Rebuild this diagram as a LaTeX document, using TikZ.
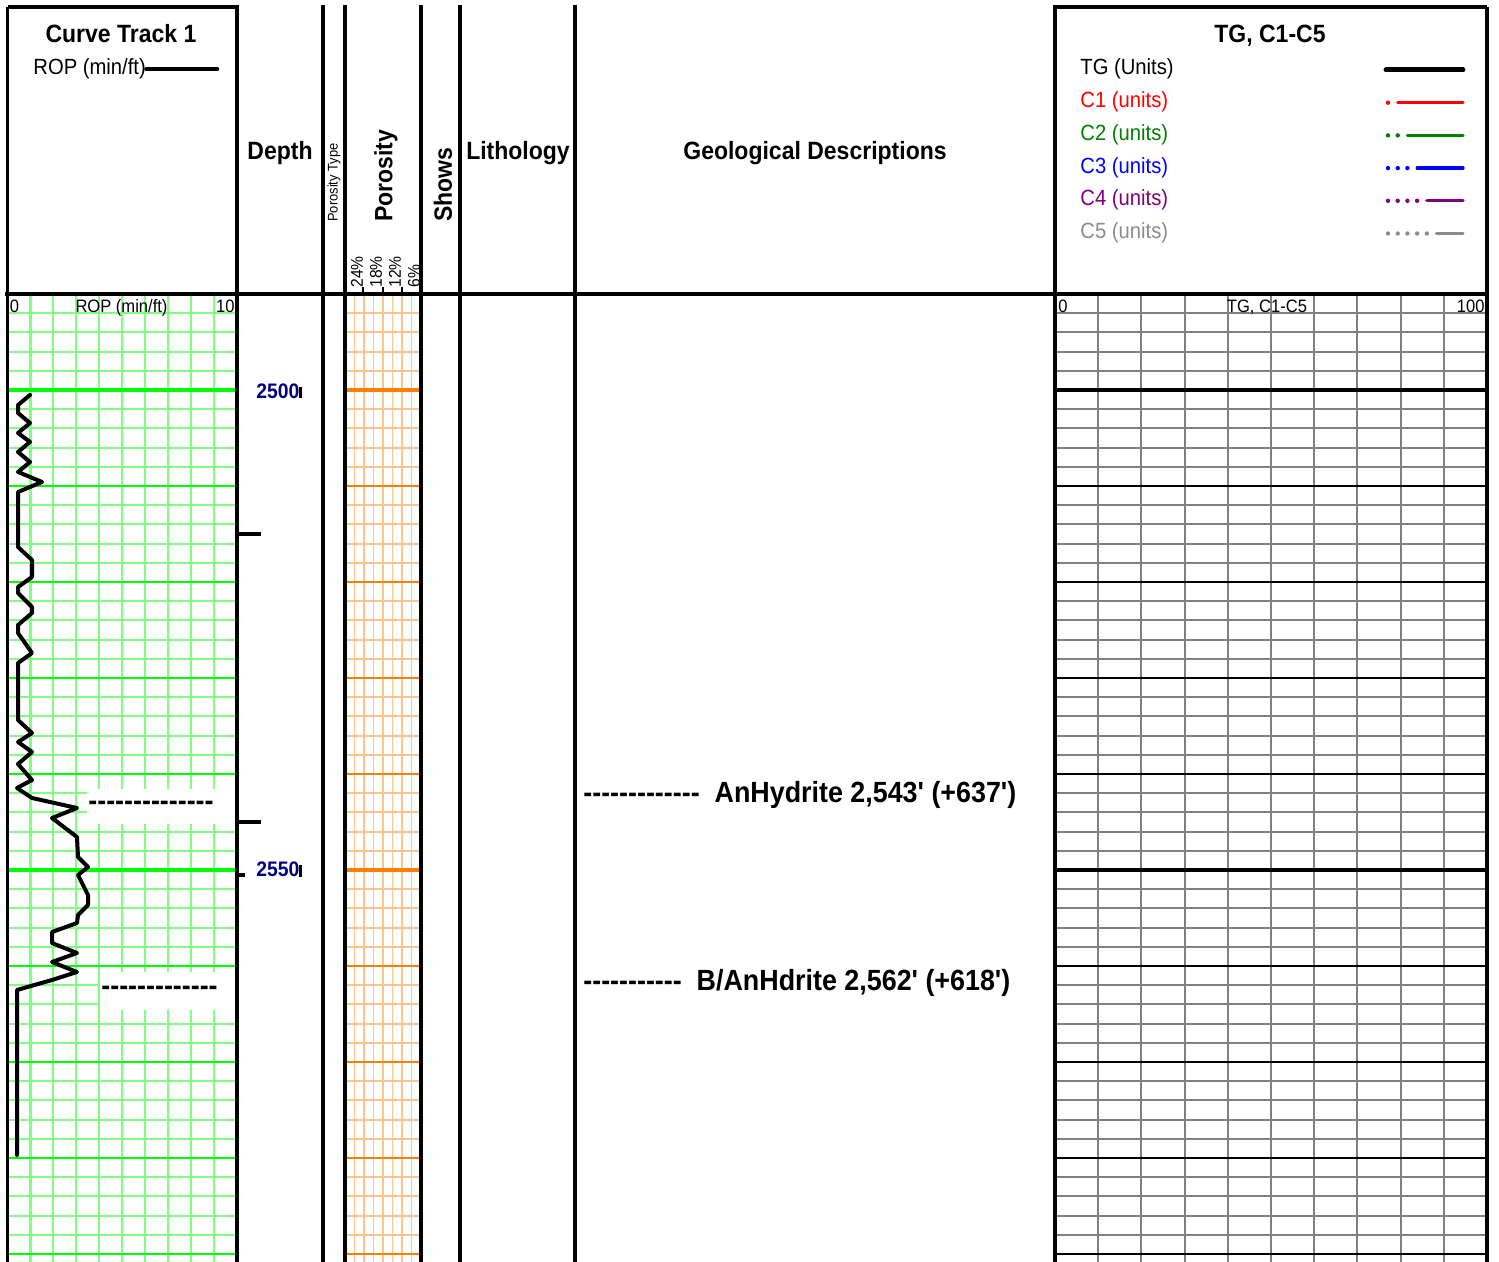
\documentclass[tikz,border=0pt]{standalone}
\usepackage{fontspec}
\usepackage{xcolor}
\usepackage{tikz}
\newfontfamily\logfont{Liberation Sans}[FakeStretch=0.92]
\definecolor{ropgreen}{HTML}{80FF80}
\definecolor{ropbold}{HTML}{00FF00}
\definecolor{porlight}{HTML}{FFC48C}
\definecolor{porbold}{HTML}{FF8000}
\definecolor{gasgrid}{HTML}{808080}
\definecolor{depthblue}{HTML}{000080}
\definecolor{c2green}{HTML}{008000}
\definecolor{c4purple}{HTML}{800080}
\definecolor{c5grey}{HTML}{8C8C8C}

\begin{document}
\begin{tikzpicture}[x=0.5pt, y=-0.5pt,
	frame/.style = {line width=1.75pt},
	title/.style = {font=\logfont\fontsize{12.5}{15}\selectfont\bfseries, inner sep=0pt},
	legend/.style = {font=\logfont\fontsize{11}{13}\selectfont, inner sep=0pt},
	scalelbl/.style = {font=\logfont\fontsize{9}{11}\selectfont, inner sep=0pt},
	smalllbl/.style = {font=\logfont\fontsize{7}{9}\selectfont, inner sep=0pt},
	pct/.style = {font=\logfont\fontsize{8.5}{10}\selectfont, inner sep=0pt},
	depthlbl/.style = {font=\logfont\fontsize{10.5}{12}\selectfont\bfseries, text=depthblue, inner sep=0pt},
	desc/.style = {font=\logfont\fontsize{14.6}{17}\selectfont\bfseries, inner sep=0pt},
	dashbox/.style = {desc, fill=white, inner xsep=0.5pt, inner ysep=0pt, align=left},
	ropminor/.style = {draw=ropgreen, line width=1.05pt},
	ropmajor/.style = {draw=ropbold, line width=1.3pt},
	porminor/.style = {draw=porlight, line width=0.95pt},
	pormajor/.style = {draw=porbold, line width=1.3pt},
	gasminor/.style = {draw=gasgrid, line width=0.95pt},
	gasmajor/.style = {draw=black, line width=1.1pt},
	ropcurve/.style = {line width=2pt, line join=round, line cap=round}]
	\useasboundingbox (0,0) rectangle (1499,1262);

	\foreach \k in {1,...,9}
		\draw[ropminor] ({7.5+22.95*\k},294) -- ({7.5+22.95*\k},1262);
	\foreach \k in {1,...,50}
		\draw[ropminor] (7.5,{294+19.2*\k}) -- (237,{294+19.2*\k});
	\foreach \k in {5,10,...,50}
		\draw[ropmajor] (7.5,{294+19.2*\k}) -- (237,{294+19.2*\k});
	\foreach \k in {5,30}
		\draw[ropmajor, line width=1.7pt] (7.5,{294+19.2*\k}) -- (237,{294+19.2*\k});

	\foreach \k in {1,...,7}
		\draw[porminor] ({345+9.5*\k},294) -- ({345+9.5*\k},1262);
	\foreach \k in {1,...,50}
		\draw[porminor] (345,{294+19.2*\k}) -- (421,{294+19.2*\k});
	\foreach \k in {5,10,...,50}
		\draw[pormajor] (345,{294+19.2*\k}) -- (421,{294+19.2*\k});
	\foreach \k in {5,30}
		\draw[pormajor, line width=1.6pt] (345,{294+19.2*\k}) -- (421,{294+19.2*\k});

	\foreach \k in {1,...,9}
		\draw[gasminor] ({1055+43.2*\k},294) -- ({1055+43.2*\k},1262);
	\foreach \k in {1,...,50}
		\draw[gasminor] (1055,{294+19.2*\k}) -- (1487,{294+19.2*\k});
	\foreach \k in {5,10,...,50}
		\draw[gasmajor] (1055,{294+19.2*\k}) -- (1487,{294+19.2*\k});
	\foreach \k in {5,30}
		\draw[gasmajor, line width=1.7pt] (1055,{294+19.2*\k}) -- (1487,{294+19.2*\k});

	\node[dashbox, anchor=west, text width=75pt, minimum height=17.5pt] (anhymark) at (87,806) {--------------};
	\node[dashbox, anchor=west, text width=68.5pt, minimum height=19pt] (banhymark) at (100,991) {-------------};

	\draw[ropcurve] (30,395) -- (18,405) -- (18,413) -- (30,423) -- (18,433) -- (30,442) -- (18,452)
		-- (30,462) -- (18,472) -- (42,482) -- (18,492) -- (18,547) -- (32,560) -- (32,577) -- (18,587)
		-- (18,593) -- (32,607) -- (32,613) -- (18,625) -- (18,633) -- (32,653) -- (18,663) -- (18,720)
		-- (32,733) -- (18,742) -- (32,752) -- (18,764) -- (32,780) -- (17,788) -- (32,798) -- (77,808)
		-- (52,818) -- (77,837) -- (78,857) -- (88,867) -- (78,875) -- (88,895) -- (88,905) -- (78,915)
		-- (77,923) -- (52,932) -- (52,943) -- (77,953) -- (52,962) -- (77,972) -- (52,980) -- (17,990)
		-- (17,1155);

	\node[title, anchor=base] (curvetrack) at (121,43) {Curve Track 1};
	\node[legend, anchor=base west] (roplegend) at (33,75) {ROP (min/ft)};
	\draw[ropcurve] (roplegend.east) -- ++(71,0);
	\node[scalelbl, anchor=base west] (ropmin) at (9.5,313) {0};
	\node[scalelbl, anchor=base] (ropname) at (121.5,313) {ROP (min/ft)};
	\node[scalelbl, anchor=base east] (ropmax) at (235,313) {10};

	\node[title, anchor=base] (depthhead) at (280,160) {Depth};
	\node[smalllbl, rotate=90, anchor=west] (portype) at (334,222) {Porosity Type};
	\node[title, rotate=90, anchor=west] (porhead) at (386,222) {Porosity};
	\node[title, rotate=90, anchor=west] (showhead) at (443,222) {Shows};
	\node[title, anchor=base] (lithhead) at (518,160) {Lithology};
	\node[title, anchor=base] (geohead) at (815,160) {Geological Descriptions};
	\foreach \p/\x in {24/357, 18/376, 12/395, 6/414}
		\node[pct, rotate=90, anchor=west] (pct\p) at (\x,288) {\p\%};
	\foreach \x in {363, 383, 402}
		\draw[line width=0.6pt] (\x,287) -- (\x,294);

	\node[depthlbl, anchor=base west] (d2500) at (256,399) {2500};
	\node[depthlbl, anchor=base west] (d2550) at (256,876) {2550};
	\draw[line width=1.2pt] (300.5,387) -- (300.5,398);
	\draw[line width=1.2pt] (300.5,865) -- (300.5,877);
	\draw[line width=2pt] (237,534) -- (261,534);
	\draw[line width=2pt] (237,822) -- (261,822);
	\draw[line width=2pt] (237,875) -- (245,875);

	\node[desc, anchor=base west] (anhy) at (583,802) {-------------~~AnHydrite 2,543' (+637')};
	\node[desc, anchor=base west] (banhy) at (583,990) {-----------~~B/AnHdrite 2,562' (+618')};

	\node[title, anchor=base] (gashead) at (1270,43) {TG, C1-C5};
	\node[legend, anchor=base west] (tg) at (1080,75) {TG (Units)};
	\draw[line width=2.5pt, line cap=round] (1386,70) -- (1463,70);
	\foreach \name/\col/\n in {C1 (units)/red/1, C2 (units)/c2green/2, C3 (units)/blue/3, C4 (units)/c4purple/4, C5 (units)/c5grey/5} {
		\pgfmathsetmacro\yy{75+32.7*\n}
		\node[legend, text=\col, anchor=base west] (c\n) at (1080,\yy) {\name};
		\foreach \k in {1,...,\n}
			\fill[\col] ({1388+9.7*(\k-1)},{\yy-5}) circle[radius=1.1pt];
		\draw[\col, line width=1.6pt, line cap=round] ({1388+9.7*\n},{\yy-5}) -- (1463,{\yy-5});
	}
	\node[scalelbl, anchor=base west] (gasmin) at (1058,313) {0};
	\node[scalelbl, anchor=base] (gasname) at (1267,313) {TG, C1-C5};
	\node[scalelbl, anchor=base east] (gasmax) at (1485,313) {100};

	\draw[frame] (7.5,7) -- (237,7);
	\draw[frame] (1055,7) -- (1487,7);
	\draw[frame] (5,294) -- (1487,294);
	\draw[frame] (7.5,7) -- (7.5,1262);
	\draw[frame] (1487,7) -- (1487,1262);
	\foreach \x in {237, 323, 345, 421, 460, 575, 1055}
		\draw[frame] (\x,5) -- (\x,1262);
\end{tikzpicture}
\end{document}
